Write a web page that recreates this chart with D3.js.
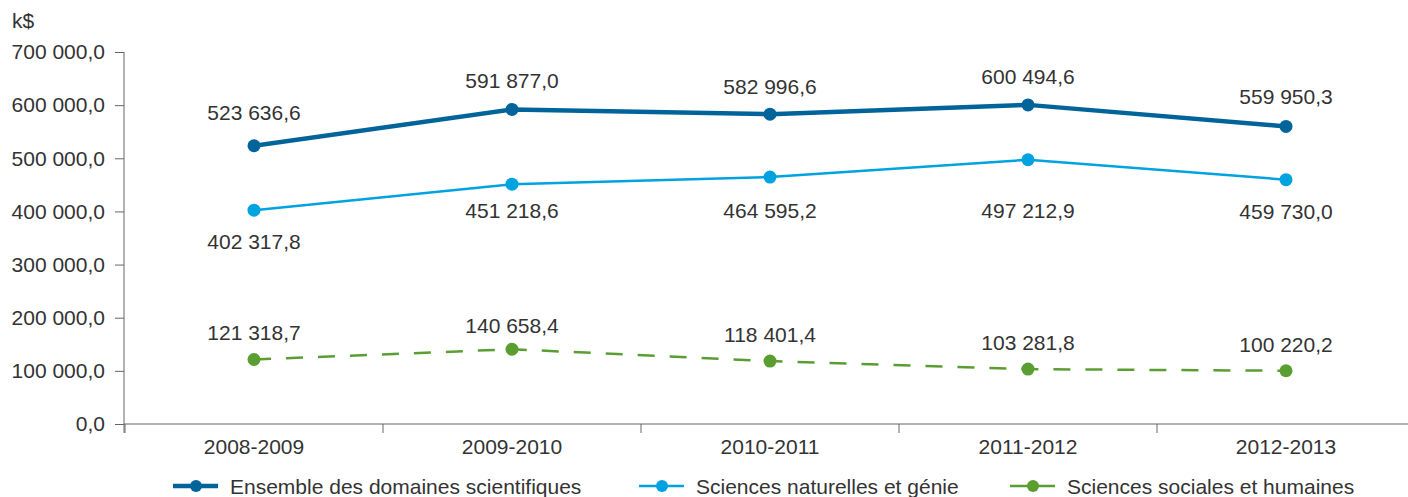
<!DOCTYPE html>
<html><head><meta charset="utf-8">
<script src="https://cdn.jsdelivr.net/npm/d3@7"></script>
<style>
body{margin:0;background:#fff;}
text{font-family:"Liberation Sans",Arial,sans-serif;fill:#333;}
</style></head>
<body>
<svg id="c" width="1408" height="497"></svg>
<script>
const categories = ["2008-2009","2009-2010","2010-2011","2011-2012","2012-2013"];
const ensemble = [523636.6, 591877.0, 582996.6, 600494.6, 559950.3];
const naturelles = [402317.8, 451218.6, 464595.2, 497212.9, 459730.0];
const sociales = [121318.7, 140658.4, 118401.4, 103281.8, 100220.2];
const yTicks = [0,100000,200000,300000,400000,500000,600000,700000];
const seriesNames = ["Ensemble des domaines scientifiques","Sciences naturelles et génie","Sciences sociales et humaines"];

const FS = "21px";
const svg = d3.select("#c");
const x = d3.scaleBand().domain(categories).range([125,1415]);
const y = d3.scaleLinear().domain([0,700000]).range([424,52]);
const fmt = v => d3.format(",.1f")(v).replace(/,/g," ").replace(".",",");

// y axis
const ya = svg.append("g").attr("transform","translate(124,0)")
  .call(d3.axisLeft(y).tickValues(yTicks).tickSize(9).tickPadding(10).tickFormat(fmt));
ya.select(".domain").attr("stroke","#666").attr("d","M0,"+y(700000)+"V"+(y(0)+9));
ya.selectAll(".tick line").attr("stroke","#666");
ya.selectAll(".tick text").style("font-size",FS).attr("fill","#333");

// x axis
const xa = svg.append("g").attr("transform","translate(0,"+y(0)+")")
  .call(d3.axisBottom(x).tickSize(0).tickPadding(15));
xa.select(".domain").attr("stroke","#666").attr("d","M124,0H1415");
xa.selectAll(".tick text").style("font-size",FS).attr("fill","#333");
const bounds = categories.map(c=>x(c));
xa.selectAll(".sep").data(bounds).enter().append("line")
  .attr("x1",d=>d).attr("x2",d=>d).attr("y1",0).attr("y2",9).attr("stroke","#666");

svg.append("text").attr("x",12).attr("y",28).style("font-size",FS).text("k$");

const cx = c => x(c) + x.bandwidth()/2;
// label centre offsets (pixels) relative to each point
const series = [
  {name:seriesNames[0], data:ensemble, color:"#00649a", w:4.5, dash:null, off:[-33,-29,-28,-28,-30]},
  {name:seriesNames[1], data:naturelles, color:"#00a3e0", w:2.5, dash:null, off:[31,26,33,51,32]},
  {name:seriesNames[2], data:sociales, color:"#5a9e32", w:2.5, dash:"17,15", off:[-27,-24,-27,-27,-26]}
];
series.forEach(s=>{
  const pts = categories.map((c,i)=>({x:cx(c), y:y(s.data[i]), v:s.data[i], o:s.off[i]}));
  svg.append("path").attr("d", d3.line().x(d=>d.x).y(d=>d.y)(pts))
    .attr("fill","none").attr("stroke",s.color).attr("stroke-width",s.w)
    .attr("stroke-dasharray",s.dash);
  svg.selectAll(null).data(pts).enter().append("circle")
    .attr("cx",d=>d.x).attr("cy",d=>d.y).attr("r",6.5).attr("fill",s.color);
  svg.selectAll(null).data(pts).enter().append("text")
    .attr("x",d=>d.x).attr("y",d=>d.y+d.o).attr("dy","0.36em").attr("text-anchor","middle")
    .style("font-size",FS).text(d=>fmt(d.v));
});

// legend
const legX = [173, 639, 1010];
series.forEach((s,i)=>{
  const g = svg.append("g").attr("transform","translate("+legX[i]+",486)");
  g.append("line").attr("x1",0).attr("x2",45).attr("y1",0).attr("y2",0)
    .attr("stroke",s.color).attr("stroke-width",s.w);
  g.append("circle").attr("cx",23).attr("cy",0).attr("r",6).attr("fill",s.color);
  g.append("text").attr("x",57).attr("y",0).attr("dy","0.36em").style("font-size",FS).text(s.name);
});
</script>
</body></html>
